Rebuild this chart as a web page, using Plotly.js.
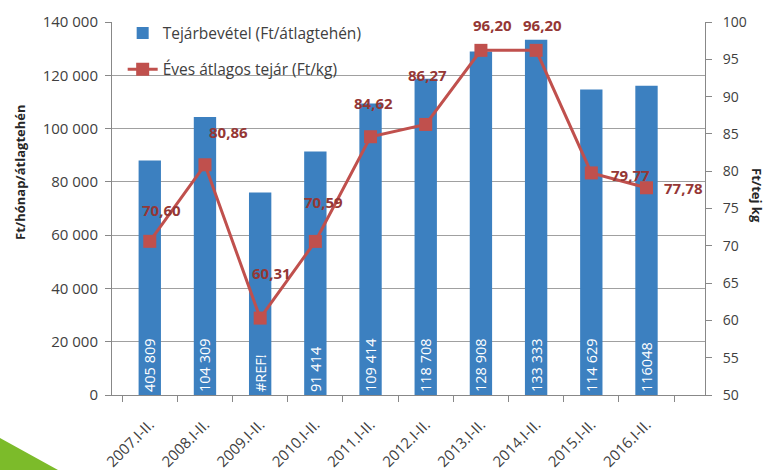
<!DOCTYPE html>
<html>
<head>
<meta charset="utf-8">
<script src="https://cdn.plot.ly/plotly-3.0.1.min.js"></script>
<style>
  html, body { margin: 0; padding: 0; background: #fff; }
  #wrap { position: relative; width: 765px; height: 470px; }
  #chart { width: 765px; height: 470px; }
  #tri { position: absolute; left: 0; top: 0; width: 765px; height: 470px; pointer-events: none;
         background: #7CBB2A; clip-path: polygon(0px 438px, 58px 470px, 0px 470px); }
</style>
</head>
<body>
<div id="wrap">
  <div id="chart"></div>
  <div id="tri"></div>
</div>
<script>
// ---- data ----
const categories = ['2007.I-II.', '2008.I-II.', '2009.I-II.', '2010.I-II.', '2011.I-II.',
                    '2012.I-II.', '2013.I-II.', '2014.I-II.', '2015.I-II.', '2016.I-II.'];
const revenue = [88000, 104309, 76000, 91414, 109414, 118708, 128908, 133333, 114629, 116048];
const revenueLabels = ['405 809', '104 309', '#REF!', '91 414', '109 414',
                       '118 708', '128 908', '133 333', '114 629', '116048'];
const milkPrice = [70.60, 80.86, 60.31, 70.59, 84.62, 86.27, 96.20, 96.20, 79.77, 77.78];
const priceLabels = ['70,60', '80,86', '60,31', '70,59', '84,62', '86,27', '96,20', '96,20', '79,77', '77,78'];
const leftTickVals = [0, 20000, 40000, 60000, 80000, 100000, 120000, 140000];
const leftTickText = ['0', '20 000', '40 000', '60 000', '80 000', '100 000', '120 000', '140 000'];
const rightTickVals = [50, 55, 60, 65, 70, 75, 80, 85, 90, 95, 100];
const seriesNames = ['Tejárbevétel (Ft/átlagtehén)', 'Éves átlagos tejár (Ft/kg)'];
const leftAxisTitle = 'Ft/hónap/átlagtehén';
const rightAxisTitle = 'Ft/tej kg';

// ---- styling (label offsets in px) ----
const labelShift = [[12, 31], [24, 33], [11, 45], [8, 39], [3, 34], [2, 49], [12, 25], [6, 25], [39, -2], [37, 0]];
const FONT = 'Open Sans, Noto Sans, sans-serif';
const blue = '#3C80C0';
const red = '#C0504D';
const darkRed = '#953735';
const gridCol = '#A0A0A0';
const tickCol = '#404040';

const bars = {
  type: 'bar',
  x: categories,
  y: revenue,
  name: seriesNames[0],
  marker: { color: blue },
  text: revenueLabels,
  textposition: 'inside',
  insidetextanchor: 'start',
  textangle: -90,
  textfont: { family: FONT, size: 14.5, color: '#ffffff' },
  constraintext: 'none',
  hoverinfo: 'x+y',
  legend: 'legend'
};

const line = {
  type: 'scatter',
  mode: 'lines+markers',
  x: categories,
  y: milkPrice,
  yaxis: 'y2',
  name: seriesNames[1],
  line: { color: red, width: 3 },
  marker: { symbol: 'square', size: 13, color: red },
  legend: 'legend2'
};

const annotations = milkPrice.map((v, i) => ({
  x: categories[i], y: v, xref: 'x', yref: 'y2',
  text: priceLabels[i], showarrow: false,
  xshift: labelShift[i][0], yshift: labelShift[i][1],
  font: { family: FONT, size: 15, color: darkRed, weight: 'bold' }
}));
annotations.push({
  xref: 'paper', yref: 'paper', x: (20 - 112) / 593, y: (395 - 173) / 373,
  xanchor: 'center', yanchor: 'middle',
  text: leftAxisTitle, showarrow: false, textangle: -90,
  font: { family: FONT, size: 13, color: '#262626', weight: 'bold' }
});
annotations.push({
  xref: 'paper', yref: 'paper', x: (757 - 112) / 593, y: (395 - 195) / 373,
  xanchor: 'center', yanchor: 'middle',
  text: rightAxisTitle, showarrow: false, textangle: 90,
  font: { family: FONT, size: 13, color: '#262626', weight: 'bold' }
});

const layout = {
  width: 765, height: 470,
  margin: { l: 112, r: 60, t: 22, b: 75 },
  paper_bgcolor: '#ffffff',
  plot_bgcolor: '#ffffff',
  bargap: 0.595,
  showlegend: true,
  font: { family: FONT, color: tickCol },
  xaxis: {
    type: 'category',
    tickangle: -45,
    tickfont: { family: FONT, size: 15, color: tickCol },
    ticklabelstandoff: 14,
    ticks: 'outside', ticklen: 6, tickcolor: '#888', tickson: 'boundaries',
    showline: true, linecolor: '#888', linewidth: 1,
    showgrid: false, zeroline: false
  },
  yaxis: {
    range: [0, 140000],
    tickvals: leftTickVals, ticktext: leftTickText,
    tickfont: { family: FONT, size: 15, color: tickCol },
    ticklabelstandoff: 4,
    ticks: 'outside', ticklen: 6, tickcolor: '#888',
    showline: true, linecolor: '#888', linewidth: 1,
    showgrid: true, gridcolor: gridCol, gridwidth: 1,
    zeroline: false
  },
  yaxis2: {
    overlaying: 'y', side: 'right',
    range: [50, 100],
    tickvals: rightTickVals,
    tickfont: { family: FONT, size: 14, color: tickCol },
    ticklabelstandoff: 8,
    ticks: 'outside', ticklen: 6, tickcolor: '#888',
    showline: true, linecolor: '#888', linewidth: 1,
    showgrid: false, zeroline: false
  },
  legend: {
    x: 0.018, y: 1.015, xanchor: 'left', yanchor: 'top',
    bgcolor: 'rgba(0,0,0,0)',
    font: { family: FONT, size: 15.5, color: tickCol }
  },
  legend2: {
    x: 0.018, y: 0.918, xanchor: 'left', yanchor: 'top',
    bgcolor: 'rgba(0,0,0,0)',
    font: { family: FONT, size: 15.5, color: tickCol }
  },
  annotations: annotations
};

Plotly.newPlot('chart', [bars, line], layout, { displayModeBar: false, staticPlot: true });
</script>
</body>
</html>
